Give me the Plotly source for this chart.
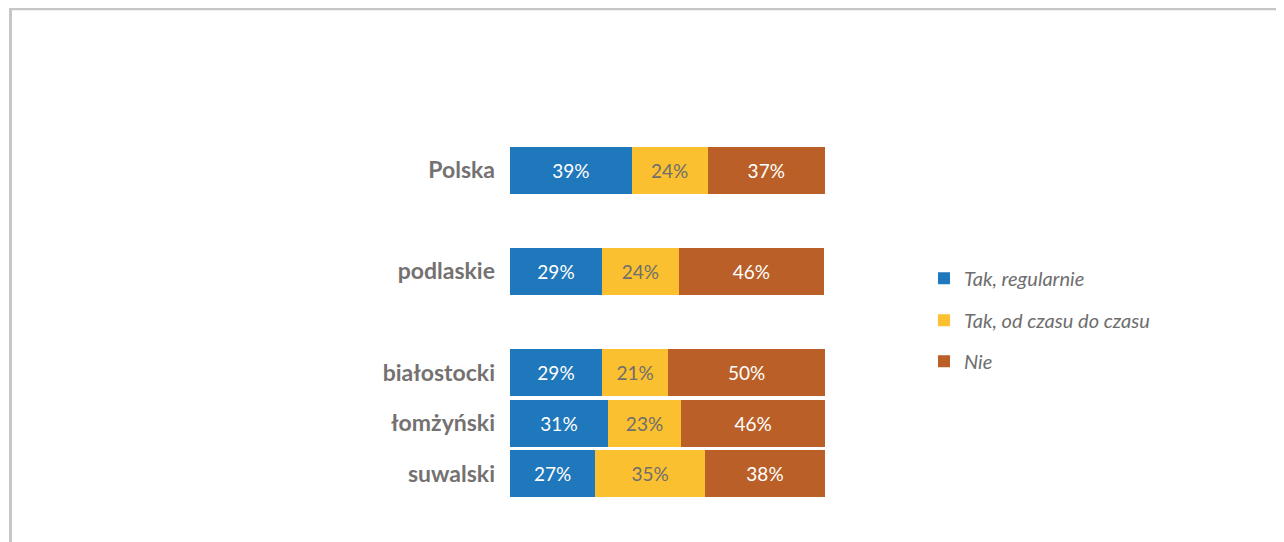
import plotly.graph_objects as go

categories = ["Polska", " ", "podlaskie", "  ", "białostocki", "łomżyński", "suwalski"]
series_names = ["Tak, regularnie", "Tak, od czasu do czasu", "Nie"]
regularnie = [38.6, None, 29.2, None, 29.2, 31.1, 27.0]
od_czasu = [24.2, None, 24.4, None, 21.0, 23.2, 34.9]
nie = [37.1, None, 46.0, None, 49.8, 45.7, 38.1]
colors = ["#1F77BC", "#FBC02F", "#B95F27"]
text_colors = ["white", "#6E6E6E", "white"]

OFF = 8  # page body margin
W, H = 1284 - OFF, 542 - OFF
L, R = 510 - OFF, 825 - OFF
T, B = 145 - OFF, 498.6 - OFF

fig = go.Figure()
legend_names = ["legend", "legend2", "legend3"]
for name, vals, col, tc, lg in zip(series_names, [regularnie, od_czasu, nie], colors, text_colors, legend_names):
    fig.add_trace(go.Bar(
        y=categories, x=vals, name=name, orientation="h",
        marker=dict(color=col, line=dict(width=0)),
        texttemplate="%{x:.0f}%", textposition="inside", insidetextanchor="middle",
        textfont=dict(family="Lato", size=19, color=tc),
        legend=lg,
    ))

def py(pix):
    return (B - (pix - OFF)) / (B - T)

def px(pix):
    return ((pix - OFF) - L) / (R - L)

leg_common = dict(xanchor="left", yanchor="middle", bgcolor="rgba(0,0,0,0)",
                  font=dict(family="Lato", size=20, color="#6E6E6E", style="italic"),
                  itemclick=False)
fig.update_layout(
    width=W, height=H,
    margin=dict(l=L, r=W - R, t=T, b=H - B),
    barmode="stack", bargap=0.07,
    plot_bgcolor="white", paper_bgcolor="white",
    xaxis=dict(range=[0, 100], visible=False, fixedrange=True),
    yaxis=dict(categoryorder="array", categoryarray=categories, autorange="reversed",
               showgrid=False, zeroline=False, showline=False, ticks="",
               ticklabelstandoff=14,
               tickfont=dict(family="Lato", size=23, color="#757171", weight="bold")),
    showlegend=True,
    legend=dict(x=px(924), y=py(278), **leg_common),
    legend2=dict(x=px(924), y=py(320), **leg_common),
    legend3=dict(x=px(924), y=py(361), **leg_common),
    shapes=[
        dict(type="line", xref="paper", yref="paper", x0=px(9), x1=px(1300), y0=py(9.2), y1=py(9.2),
             line=dict(color="#C6C6C6", width=2.5)),
        dict(type="line", xref="paper", yref="paper", x0=px(10.5), x1=px(10.5), y0=py(8), y1=py(560),
             line=dict(color="#C6C6C6", width=3)),
    ],
)

fig.write_html("out.html")
